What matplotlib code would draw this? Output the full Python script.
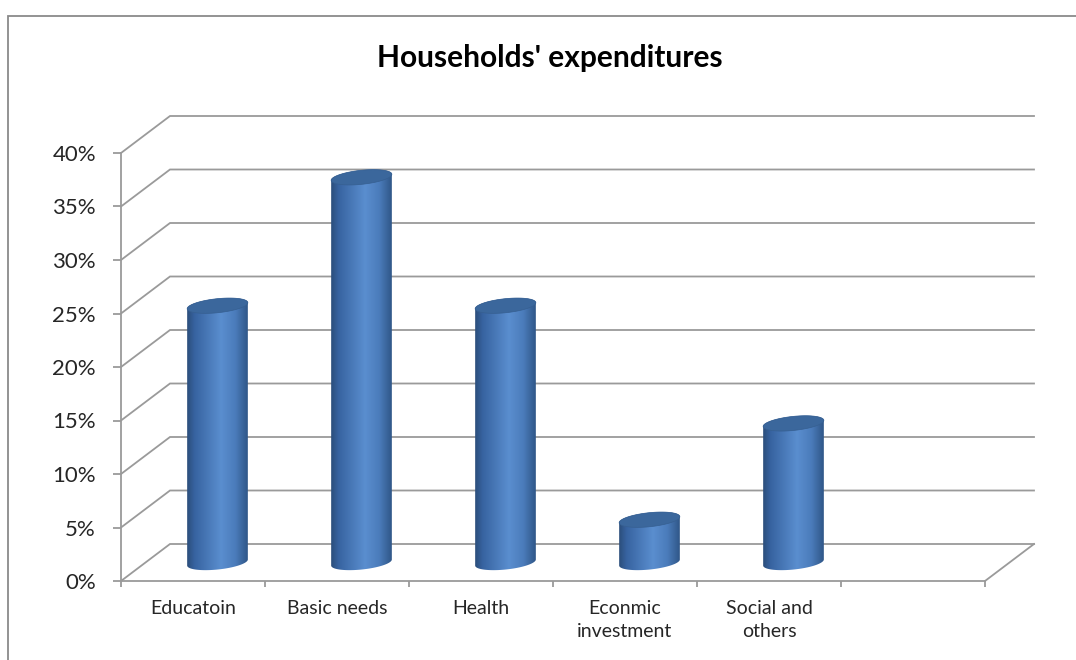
import matplotlib
matplotlib.use("Agg")
import matplotlib.pyplot as plt
import numpy as np
from matplotlib.patches import Polygon, Rectangle
from matplotlib.colors import LinearSegmentedColormap

# ---------------- data ----------------
categories = ["Educatoin", "Basic needs", "Health", "Econmic\ninvestment", "Social and\nothers", ""]
values = [24, 36, 24, 4, 13, None]          # percent
y_ticks = [0, 5, 10, 15, 20, 25, 30, 35, 40]
y_tick_labels = ["0%", "5%", "10%", "15%", "20%", "25%", "30%", "35%", "40%"]
title = "Households' expenditures"

# ---------------- layout ----------------
W, H, DPI = 1076, 660, 100
FONT = "Lato"
plt.rcParams["font.family"] = [FONT, "DejaVu Sans"]

x0_px, y0_px = 121, 581          # front-left origin (pixels from left / top)
px_per_cat = 144.0
px_per_pct = 10.7
depth_px = (49.0, 37.0)          # oblique depth offset (right, up)
ddx = depth_px[0] / px_per_cat
ddy = depth_px[1] / px_per_pct
grid_col = "#9a9a9a"
grid_lw = 1.3

fig = plt.figure(figsize=(W / DPI, H / DPI), dpi=DPI)
fig.patch.set_facecolor("white")
ax = fig.add_axes([0, 0, 1, 1])
ax.set_facecolor("none")

n = len(categories)
ymax = y_ticks[-1]

# back wall gridlines + left wall diagonals
for v in y_ticks:
    ax.plot([0, ddx, n + ddx], [v, v + ddy, v + ddy], color=grid_col, lw=grid_lw,
            solid_joinstyle="miter", zorder=1)
# floor right edge
ax.plot([n, n + ddx], [0, ddy], color=grid_col, lw=grid_lw, zorder=1)

# cylinders
cmap = LinearSegmentedColormap.from_list(
    "cyl", [(0.0, "#2b4d7a"), (0.12, "#3763a0"), (0.55, "#5a8ecf"),
            (0.78, "#4b7cbb"), (1.0, "#2d5384")])
grad = np.linspace(0, 1, 256).reshape(1, -1)
half_w_px = 30.5
ell_b_px = 7.0
tilt = np.deg2rad(6.0)


def ell(uc, vc, t):
    x = half_w_px * np.cos(t)
    y = ell_b_px * np.sin(t)
    xr = x * np.cos(tilt) - y * np.sin(tilt)
    yr = x * np.sin(tilt) + y * np.cos(tilt)
    return uc + xr / px_per_cat, vc + yr / px_per_pct


for i, val in enumerate(values):
    if val is None:
        continue
    uc = i + 0.5 + ddx / 2
    vb = ddy / 2
    vt = val + ddy / 2
    t_low = np.linspace(np.pi, 2 * np.pi, 60)
    t_up = np.linspace(0, np.pi, 60)
    bu, bv = ell(uc, vb, t_low)
    tu, tv = ell(uc, vt, t_up)
    pts = np.vstack([np.column_stack([bu, bv]), np.column_stack([tu, tv])])
    body = Polygon(pts, closed=True, facecolor="none", edgecolor="none", zorder=3)
    ax.add_patch(body)
    hw = half_w_px / px_per_cat
    im = ax.imshow(grad, cmap=cmap, aspect="auto", interpolation="bilinear",
                   extent=[uc - hw * 1.01, uc + hw * 1.01, vb - 2, vt + 2],
                   zorder=3)
    im.set_clip_path(body)
    t_all = np.linspace(0, 2 * np.pi, 120)
    eu, ev = ell(uc, vt, t_all)
    ax.add_patch(Polygon(np.column_stack([eu, ev]), closed=True,
                         facecolor="#3b679c", edgecolor="#365f91", lw=0.5, zorder=4))

# axes limits matching pixel layout
ax.set_xlim(-x0_px / px_per_cat, (W - x0_px) / px_per_cat)
ax.set_ylim(-(H - y0_px) / px_per_pct, y0_px / px_per_pct)
ax.set_aspect("auto")

# spines as front axes
for s in ["top", "right"]:
    ax.spines[s].set_visible(False)
ax.spines["left"].set_position(("data", 0))
ax.spines["bottom"].set_position(("data", 0))
ax.spines["left"].set_bounds(0, ymax)
ax.spines["bottom"].set_bounds(0, n)
for s in ["left", "bottom"]:
    ax.spines[s].set_color(grid_col)
    ax.spines[s].set_linewidth(grid_lw)
    ax.spines[s].set_zorder(5)

ax.set_yticks(y_ticks)
ax.set_yticklabels(y_tick_labels)
ax.tick_params(axis="y", direction="out", length=6, width=grid_lw, color=grid_col,
               labelsize=16, labelcolor="#262626", pad=12)

ax.set_xticks(np.arange(n + 1))
ax.set_xticklabels([])
ax.set_xticks(np.arange(n) + 0.5, minor=True)
ax.set_xticklabels(categories, minor=True)
ax.tick_params(axis="x", which="major", direction="out", length=4, width=grid_lw, color=grid_col)
ax.tick_params(axis="x", which="minor", length=0, labelsize=14, labelcolor="#262626", pad=13.5)
for lab in ax.get_xticklabels(minor=True):
    lab.set_linespacing(1.45)

# title
fig.text(550 / W, 1 - 58 / H, title, ha="center", va="center", fontsize=21.5,
         fontweight="bold", color="black", family=[FONT, "DejaVu Sans"])

# outer chart frame
fig.add_artist(Rectangle((8 / W, -0.1), 1.2, 1.1 - 16 / H, transform=fig.transFigure,
                         facecolor="none", edgecolor="#8a8a8a", lw=1.3, clip_on=False))

fig.savefig("out.png", dpi=DPI)
